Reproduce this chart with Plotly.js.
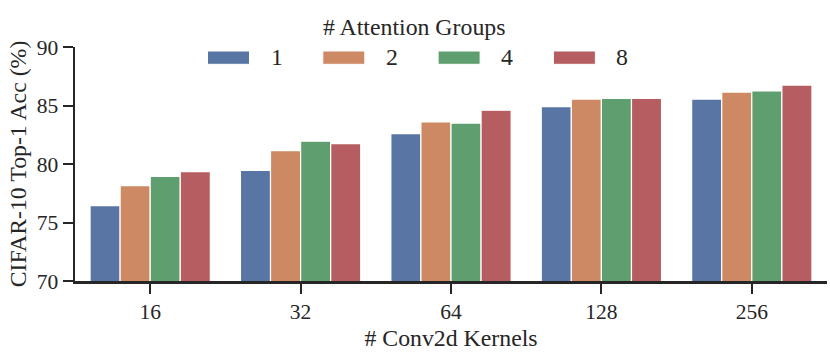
<!DOCTYPE html>
<html>
<head>
<meta charset="utf-8">
<script src="https://cdn.plot.ly/plotly-3.0.1.min.js"></script>
<style>html,body{margin:0;padding:0;background:#fff;}#chart{width:830px;height:355px;}</style>
</head>
<body>
<div id="chart"></div>
<script>
const kernels = ["16", "32", "64", "128", "256"];
const groupNames = ["1", "2", "4", "8"];
const acc_g1 = [76.45, 79.45, 82.6, 84.9, 85.55];
const acc_g2 = [78.15, 81.15, 83.6, 85.55, 86.15];
const acc_g4 = [78.95, 81.95, 83.5, 85.6, 86.25];
const acc_g8 = [79.35, 81.75, 84.6, 85.6, 86.75];
const colors = ["#5975a4", "#cc8963", "#5f9e6e", "#b55d60"];
const legendTitle = "# Attention Groups";

const series = [acc_g1, acc_g2, acc_g4, acc_g8];
const font = "Liberation Serif, Times New Roman, serif";
const ink = "#262626";
const titleSize = 23.8;
const traces = series.map((vals, i) => ({
  type: "bar",
  name: groupNames[i],
  x: kernels,
  y: vals,
  marker: {color: colors[i], line: {color: "#ffffff", width: 1.2}},
  hoverinfo: "x+y+name"
}));

// Plot-area geometry (pixels) used to place the hand-drawn legend
const W = 830, H = 355, mL = 75, mR = 3, mT = 47, mB = 74;
const pw = W - mL - mR, ph = H - mT - mB;
const px2x = px => (px - mL) / pw;
const px2y = py => (H - mB - py) / ph;

const shapes = [], annotations = [];
groupNames.forEach((g, i) => {
  const x0 = 207.5 + i * 115.3;
  shapes.push({type: "rect", xref: "paper", yref: "paper",
    x0: px2x(x0), x1: px2x(x0 + 42), y0: px2y(64.3), y1: px2y(51),
    fillcolor: colors[i], line: {color: "#ffffff", width: 1}});
  annotations.push({xref: "paper", yref: "paper", x: px2x(x0 + 61), y: px2y(57.5),
    xanchor: "left", yanchor: "middle", showarrow: false, text: g,
    font: {size: titleSize, family: font, color: ink}});
});
annotations.push({xref: "paper", yref: "paper", x: px2x(414), y: px2y(27),
  xanchor: "center", yanchor: "middle", showarrow: false, text: legendTitle,
  font: {size: titleSize, family: font, color: ink}});

const layout = {
  width: W, height: H,
  margin: {l: mL, r: mR, t: mT, b: mB, pad: 0},
  paper_bgcolor: "#ffffff", plot_bgcolor: "#ffffff",
  font: {family: font, size: 21.5, color: ink},
  barmode: "group", bargap: 0.2, bargroupgap: 0,
  showlegend: false,
  shapes: shapes, annotations: annotations,
  xaxis: {
    type: "category", range: [-0.5, 4.5],
    showline: true, linecolor: ink, linewidth: 2.5,
    ticks: "outside", ticklen: 10, tickwidth: 2, tickcolor: ink,
    showgrid: false, zeroline: false,
    tickfont: {size: 21.5},
    title: {text: "# Conv2d Kernels", font: {size: titleSize}, standoff: 6}
  },
  yaxis: {
    range: [70, 90], tickvals: [70, 75, 80, 85, 90],
    showline: true, linecolor: ink, linewidth: 2.5,
    ticks: "outside", ticklen: 10, tickwidth: 2, tickcolor: ink,
    showgrid: false, zeroline: false,
    tickfont: {size: 21.5},
    title: {text: "CIFAR-10 Top-1 Acc (%)", font: {size: titleSize}, standoff: 4}
  }
};

Plotly.newPlot("chart", traces, layout, {displayModeBar: false, staticPlot: true});
</script>
</body>
</html>
